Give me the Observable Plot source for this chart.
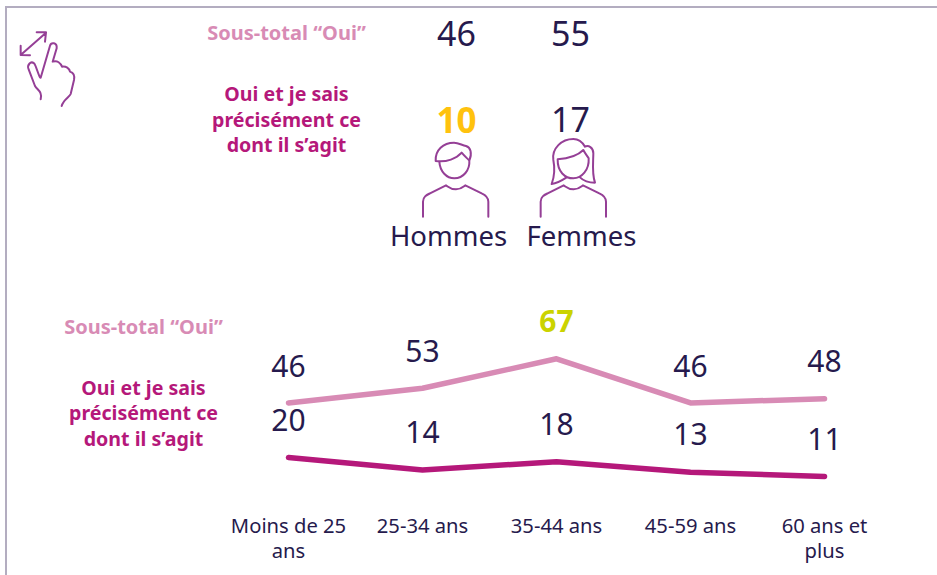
<!DOCTYPE html>
<html lang="fr"><head><meta charset="utf-8">
<script src="https://cdn.jsdelivr.net/npm/d3@7"></script>
<script src="https://cdn.jsdelivr.net/npm/@observablehq/plot@0.6"></script>
<style>
html,body{margin:0;padding:0;background:#fff;overflow:hidden}
#chart{position:relative;width:937px;height:575px}
#chart svg{display:block;background:transparent}
#frame{position:absolute;left:5px;top:6px;right:-5px;bottom:-5px;border:2.5px solid #b3adc0;pointer-events:none}
</style></head><body><div id="chart"><div id="frame"></div></div>
<script>
const FONT = "'Noto Sans', sans-serif";
const NAVY = "#261a4d", PINK = "#d88bb5", MAGENTA = "#b5187a", YELLOW = "#ffc20e", LIME = "#cbd300", ICON = "#953f96";

const genders = ["Hommes", "Femmes"];
const genderSubtotal = [46, 55];
const genderPrecise = [10, 17];
const ages = ["Moins de 25\nans", "25-34 ans", "35-44 ans", "45-59 ans", "60 ans et\nplus"];
const ageSubtotal = [46, 53, 67, 46, 48];
const agePrecise = [20, 14, 18, 13, 11];
const labelSubtotal = "Sous-total “Oui”";
const labelPrecise = "Oui et je sais\nprécisément ce\ndont il s’agit";

const iconPaths = [
  {d:"M62 165L138 98M110 97H138L135 125M62 137L62 165L90 166M122 233L150 137C153 126 172 126 170 145L158 185C172 180 182 190 186 200C198 198 208 205 210 215C220 218 225 225 222 240L212 282C208 292 190 298 185 318M122 233C118 236 108 195 102 190C92 182 80 195 86 208L105 258C112 270 128 275 122 298", tx:0, ty:0, s:1/3},
  {d:"M178 215C180 245 200 265 223 265C250 265 270 240 268 212M167 213C200 218 230 205 245 188C255 200 262 205 268 212M167 213C165 180 190 158 222 158C235 158 245 165 258 168C272 172 277 190 268 212M129 380V335C129 320 140 315 150 310L198 286C205 290 210 298 228 298C245 298 250 290 256 286L305 310C318 316 325 322 325 335V380", tx:380, ty:90, s:1/3},
  {d:"M533 208C532 245 555 265 580 265C605 265 628 240 626 205C622 198 615 190 610 180C590 200 560 206 533 208ZM560 262C540 275 530 280 515 282C525 255 525 235 520 210C515 175 545 147 580 147C595 147 608 158 615 170C625 165 640 172 640 190C640 215 635 250 645 278C625 278 610 272 600 262M482 380V335C482 320 493 315 503 310L551 286C558 290 563 298 581 298C598 298 603 290 609 286L658 310C671 316 678 322 678 335V380", tx:380, ty:90, s:1/3}
];
const icons = () => {
  const g = d3.create("svg:g").attr("fill","none").attr("stroke",ICON).attr("stroke-linecap","round").attr("stroke-linejoin","round");
  for (const p of iconPaths) g.append("path").attr("d",p.d).attr("transform",`translate(${p.tx},${p.ty}) scale(${p.s})`).attr("stroke-width",6);
  return g.node();
};

const note = (text, fill, dx, dy, fontSize = 19.6) => Plot.text([text], {frameAnchor:"top-left", dx, dy, fill, fontSize, fontWeight:700, lineHeight:1.3, textAnchor:"middle", lineAnchor:"middle"});

const rows = ["sub","pre"];
const genderRows = genders.flatMap((g,i)=>[{g,row:"sub",v:genderSubtotal[i]},{g,row:"pre",v:genderPrecise[i]}]);
const topPlot = Plot.plot({
  width:937, height:270, margin:0, style:{fontFamily:FONT, background:"transparent"},
  x:{type:"point", domain:genders, range:[456,570], padding:0, axis:null},
  y:{type:"point", domain:rows, range:[34.5,120.5], padding:0, axis:null},
  marks:[
    note(labelSubtotal, PINK, 286, 31, 20),
    note(labelPrecise, MAGENTA, 286, 118),
    Plot.text(genderRows.filter(d=>!(d.row==="pre"&&d.g==="Hommes")), {x:"g", y:"row", text:"v", fill:NAVY, fontSize:34}),
    Plot.text(genderRows.filter(d=>d.row==="pre"&&d.g==="Hommes"), {x:"g", y:"row", text:"v", fill:YELLOW, fontSize:35, fontWeight:700}),
    Plot.text(["Hommes"], {x:d=>d, frameAnchor:"top", dy:237, text:d=>d, fill:NAVY, fontSize:27.5, lineAnchor:"middle", dx:-8}),
    Plot.text(["Femmes"], {x:d=>d, frameAnchor:"top", dy:237, text:d=>d, fill:NAVY, fontSize:27.5, lineAnchor:"middle", dx:11}),
    icons
  ]
});

const OFFY = 270;
const ageSub = ages.map((a,i)=>({a,v:ageSubtotal[i]}));
const agePre = ages.map((a,i)=>({a,v:agePrecise[i]}));
const bottomPlot = Plot.plot({
  width:937, height:305, marginTop:0, marginLeft:0, marginRight:0, marginBottom:61, style:{fontFamily:FONT, background:"transparent"},
  x:{type:"point", domain:ages, range:[287,825], padding:0},
  y:{domain:[0,100], range:[499-OFFY, 289-OFFY], axis:null},
  marks:[
    note(labelSubtotal, PINK, 143, 55.5, 20),
    note(labelPrecise, MAGENTA, 143, 141.5),
    Plot.axisX({domain:ages, tickSize:0, tickPadding:0, fontSize:20.2, lineHeight:1.27, label:null, color:NAVY}),
    Plot.line(ageSub, {x:"a", y:"v", stroke:PINK, strokeWidth:5.5, strokeLinecap:"round", strokeLinejoin:"round"}),
    Plot.line(agePre, {x:"a", y:"v", stroke:MAGENTA, strokeWidth:5.5, strokeLinecap:"round", strokeLinejoin:"round"}),
    Plot.text(ageSub.filter(d=>d.v!==67), {x:"a", y:"v", text:"v", dy:-36, fill:NAVY, fontSize:30}),
    Plot.text(ageSub.filter(d=>d.v===67), {x:"a", y:"v", text:"v", dy:-36, fill:LIME, fontSize:30, fontWeight:700}),
    Plot.text(agePre, {x:"a", y:"v", text:"v", dy:-36.5, fill:NAVY, fontSize:30})
  ]
});
const root = document.getElementById("chart");
root.appendChild(topPlot); root.appendChild(bottomPlot);
</script></body></html>
